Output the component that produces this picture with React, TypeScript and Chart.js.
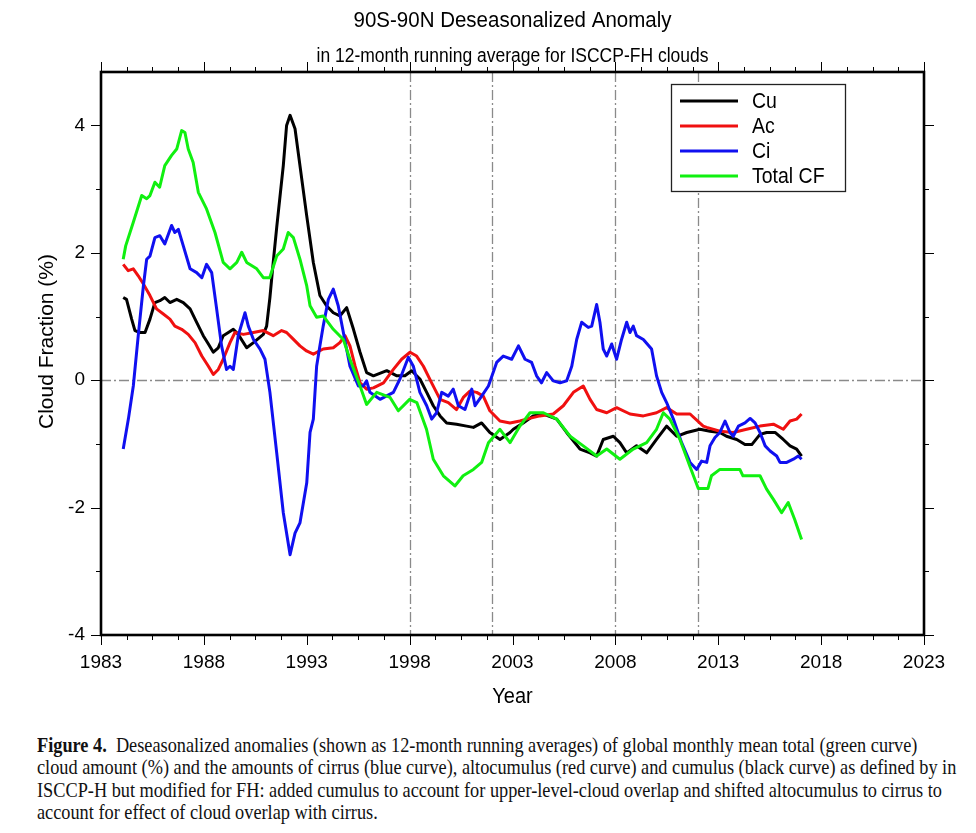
import React, { useEffect, useRef } from 'react';
import { Chart, registerables } from 'chart.js';

Chart.register(...registerables);

// ---------- data ----------
const cuYears = [1984.08, 1984.24, 1984.49, 1984.65, 1984.9, 1985.14, 1985.38, 1985.62, 1985.86, 1986.1, 1986.35, 1986.68, 1987.0, 1987.33, 1987.65, 1987.97, 1988.22, 1988.46, 1988.7, 1988.94, 1989.19, 1989.43, 1989.67, 1990.08, 1990.41, 1990.89, 1991.05, 1991.21, 1991.37, 1991.54, 1991.86, 1992.02, 1992.19, 1992.43, 1992.67, 1992.99, 1993.32, 1993.64, 1993.96, 1994.29, 1994.61, 1994.94, 1995.27, 1995.59, 1995.91, 1996.24, 1996.89, 1997.38, 1997.77, 1998.1, 1998.5, 1998.83, 1999.15, 1999.48, 1999.8, 2000.28, 2000.77, 2001.1, 2001.5, 2001.9, 2002.39, 2002.88, 2003.04, 2003.52, 2004.0, 2004.5, 2005.15, 2005.63, 2006.28, 2006.77, 2007.09, 2007.41, 2007.9, 2008.22, 2008.55, 2009.03, 2009.52, 2010.0, 2010.49, 2010.98, 2011.47, 2012.11, 2012.6, 2013.08, 2013.4, 2013.9, 2014.3, 2014.63, 2015.03, 2015.35, 2015.76, 2016.16, 2016.49, 2016.81, 2017.05];
const cuValues = [1.30, 1.27, 0.96, 0.78, 0.75, 0.75, 0.96, 1.22, 1.25, 1.30, 1.22, 1.27, 1.22, 1.12, 0.91, 0.70, 0.57, 0.44, 0.51, 0.70, 0.75, 0.80, 0.72, 0.51, 0.59, 0.72, 0.85, 1.30, 1.85, 2.40, 3.37, 4.00, 4.16, 3.95, 3.37, 2.60, 1.85, 1.33, 1.17, 1.06, 1.01, 1.14, 0.80, 0.44, 0.12, 0.07, 0.15, 0.07, 0.07, 0.15, 0.02, -0.19, -0.40, -0.56, -0.67, -0.69, -0.72, -0.74, -0.67, -0.82, -0.93, -0.82, -0.77, -0.67, -0.56, -0.53, -0.61, -0.82, -1.08, -1.14, -1.19, -0.93, -0.88, -0.98, -1.14, -1.03, -1.14, -0.93, -0.72, -0.88, -0.82, -0.77, -0.80, -0.82, -0.88, -0.93, -1.01, -1.01, -0.85, -0.82, -0.82, -0.93, -1.03, -1.08, -1.19];

const acYears = [1984.08, 1984.32, 1984.57, 1984.81, 1985.06, 1985.38, 1985.7, 1986.03, 1986.35, 1986.59, 1986.92, 1987.24, 1987.57, 1987.9, 1988.22, 1988.46, 1988.7, 1988.94, 1989.27, 1989.51, 1989.92, 1990.41, 1990.89, 1991.37, 1991.78, 1992.02, 1992.27, 1992.67, 1992.99, 1993.32, 1993.8, 1994.29, 1994.61, 1994.86, 1995.1, 1995.35, 1995.59, 1995.91, 1996.24, 1996.73, 1997.21, 1997.61, 1998.02, 1998.34, 1998.67, 1999.07, 1999.48, 1999.88, 2000.28, 2000.61, 2000.93, 2001.26, 2001.58, 2001.9, 2002.39, 2002.88, 2003.36, 2003.68, 2004.33, 2004.98, 2005.47, 2005.96, 2006.44, 2006.77, 2007.09, 2007.58, 2008.06, 2008.71, 2009.36, 2010.0, 2010.49, 2010.98, 2011.63, 2012.27, 2012.44, 2013.08, 2013.73, 2014.38, 2015.03, 2015.68, 2016.16, 2016.49, 2016.81, 2017.05];
const acValues = [1.82, 1.72, 1.75, 1.64, 1.51, 1.33, 1.12, 1.04, 0.96, 0.85, 0.80, 0.72, 0.59, 0.38, 0.22, 0.09, 0.17, 0.33, 0.59, 0.75, 0.72, 0.75, 0.78, 0.70, 0.78, 0.75, 0.67, 0.54, 0.46, 0.41, 0.49, 0.51, 0.59, 0.70, 0.54, 0.22, -0.04, -0.14, -0.12, -0.04, 0.17, 0.33, 0.44, 0.38, 0.22, -0.04, -0.30, -0.35, -0.46, -0.27, -0.17, -0.19, -0.25, -0.48, -0.64, -0.67, -0.64, -0.61, -0.56, -0.53, -0.40, -0.19, -0.09, -0.30, -0.46, -0.51, -0.43, -0.53, -0.56, -0.51, -0.43, -0.53, -0.53, -0.72, -0.74, -0.80, -0.82, -0.77, -0.72, -0.69, -0.77, -0.64, -0.61, -0.53];

const ciYears = [1984.08, 1984.33, 1984.57, 1984.81, 1985.06, 1985.22, 1985.38, 1985.62, 1985.86, 1986.1, 1986.43, 1986.59, 1986.76, 1987.0, 1987.33, 1987.65, 1987.9, 1988.13, 1988.38, 1988.62, 1988.86, 1989.1, 1989.27, 1989.43, 1989.67, 1990.0, 1990.16, 1990.41, 1990.73, 1990.97, 1991.21, 1991.54, 1991.86, 1992.19, 1992.43, 1992.67, 1993.0, 1993.16, 1993.32, 1993.48, 1993.64, 1993.8, 1994.05, 1994.29, 1994.53, 1994.78, 1995.1, 1995.51, 1995.75, 1995.91, 1996.07, 1996.56, 1997.21, 1997.53, 1997.94, 1998.18, 1998.5, 1998.83, 1999.07, 1999.31, 1999.56, 1999.88, 2000.12, 2000.37, 2000.69, 2001.02, 2001.18, 2001.5, 2001.83, 2002.23, 2002.55, 2002.96, 2003.29, 2003.61, 2003.93, 2004.17, 2004.41, 2004.66, 2004.98, 2005.31, 2005.63, 2005.88, 2006.12, 2006.36, 2006.68, 2006.85, 2007.09, 2007.25, 2007.41, 2007.58, 2007.82, 2008.06, 2008.3, 2008.55, 2008.71, 2008.87, 2009.03, 2009.36, 2009.76, 2010.0, 2010.25, 2010.49, 2010.82, 2011.22, 2011.63, 2011.95, 2012.19, 2012.44, 2012.6, 2012.84, 2013.08, 2013.33, 2013.57, 2013.73, 2013.98, 2014.3, 2014.55, 2014.79, 2015.03, 2015.28, 2015.52, 2015.84, 2016.0, 2016.33, 2016.65, 2016.89, 2017.05];
const ciValues = [-1.08, -0.61, -0.09, 0.70, 1.48, 1.90, 1.95, 2.24, 2.27, 2.14, 2.43, 2.32, 2.37, 2.11, 1.75, 1.69, 1.61, 1.82, 1.69, 1.12, 0.54, 0.17, 0.22, 0.17, 0.70, 1.06, 0.85, 0.64, 0.49, 0.33, -0.19, -1.14, -2.08, -2.74, -2.40, -2.24, -1.61, -0.82, -0.61, 0.22, 0.54, 0.85, 1.27, 1.43, 1.17, 0.75, 0.22, -0.09, -0.09, -0.01, -0.19, -0.30, -0.19, 0.02, 0.36, 0.22, -0.19, -0.40, -0.61, -0.51, -0.19, -0.25, -0.14, -0.40, -0.46, -0.14, -0.40, -0.25, -0.09, 0.28, 0.38, 0.33, 0.54, 0.33, 0.28, 0.07, -0.04, 0.12, -0.01, -0.04, -0.01, 0.22, 0.64, 0.91, 0.83, 0.85, 1.19, 0.91, 0.49, 0.38, 0.57, 0.33, 0.64, 0.91, 0.75, 0.85, 0.70, 0.64, 0.49, 0.07, -0.19, -0.35, -0.61, -0.98, -1.29, -1.40, -1.27, -1.29, -1.03, -0.90, -0.82, -0.64, -0.82, -0.88, -0.72, -0.67, -0.60, -0.67, -0.82, -1.03, -1.11, -1.19, -1.29, -1.29, -1.24, -1.19, -1.24];

const cfYears = [1984.08, 1984.2, 1984.57, 1984.98, 1985.22, 1985.38, 1985.62, 1985.85, 1986.1, 1986.43, 1986.68, 1986.92, 1987.08, 1987.24, 1987.48, 1987.73, 1988.13, 1988.54, 1988.94, 1989.27, 1989.6, 1989.84, 1990.08, 1990.57, 1990.89, 1991.2, 1991.54, 1991.86, 1992.1, 1992.35, 1992.67, 1993.0, 1993.16, 1993.48, 1993.8, 1994.29, 1994.78, 1995.1, 1995.59, 1995.91, 1996.4, 1997.05, 1997.45, 1998.0, 1998.35, 1998.82, 1999.15, 1999.64, 2000.2, 2000.6, 2001.1, 2001.5, 2001.83, 2002.39, 2002.88, 2003.36, 2003.85, 2004.5, 2005.15, 2005.8, 2006.44, 2007.09, 2007.58, 2008.22, 2008.87, 2009.52, 2010.0, 2010.33, 2010.65, 2011.14, 2011.62, 2012.03, 2012.5, 2012.67, 2013.08, 2014.05, 2014.2, 2015.03, 2015.35, 2015.68, 2016.08, 2016.4, 2016.72, 2017.05];
const cfValues = [1.90, 2.11, 2.48, 2.90, 2.85, 2.90, 3.11, 3.03, 3.37, 3.53, 3.63, 3.92, 3.89, 3.63, 3.42, 2.95, 2.69, 2.32, 1.85, 1.75, 1.85, 2.01, 1.85, 1.75, 1.61, 1.61, 1.95, 2.06, 2.32, 2.24, 1.90, 1.48, 1.17, 0.99, 1.01, 0.80, 0.64, 0.33, -0.09, -0.38, -0.19, -0.27, -0.48, -0.30, -0.35, -0.77, -1.24, -1.50, -1.66, -1.50, -1.40, -1.29, -0.98, -0.77, -0.98, -0.72, -0.51, -0.51, -0.61, -0.88, -1.03, -1.19, -1.08, -1.24, -1.08, -0.98, -0.77, -0.51, -0.61, -0.93, -1.35, -1.70, -1.70, -1.50, -1.40, -1.40, -1.50, -1.50, -1.71, -1.87, -2.08, -1.92, -2.19, -2.50];

const seriesNames = ['Cu', 'Ac', 'Ci', 'Total CF'];
const seriesColors = ['#000000', '#f01010', '#1010f0', '#10f010'];
const xTicks = [1983, 1988, 1993, 1998, 2003, 2008, 2013, 2018, 2023];
const yTicks = [-4, -2, 0, 2, 4];
const breakYears = [1998, 2002, 2008, 2012];
const titleText = '90S-90N Deseasonalized Anomaly';
const subtitleText = 'in 12-month running average for ISCCP-FH clouds';
const xTitle = 'Year';
const yTitle = 'Cloud Fraction (%)';

const FONT = '"Liberation Sans", Arial, Helvetica, sans-serif';
const STRETCH = 1.12;

const toPoints = (xs: number[], ys: number[]) => xs.map((x, i) => ({ x, y: ys[i] }));

function stretchText(ctx: any, text: string, x: number, y: number) {
  ctx.save();
  ctx.translate(x, y);
  ctx.scale(1, STRETCH);
  ctx.fillText(text, 0, 0);
  ctx.restore();
}

const decorPlugin = {
  id: 'decor',
  beforeDatasetsDraw(chart: any) {
    const { ctx, chartArea: a, scales } = chart;
    const x = scales.x, y = scales.y;
    ctx.save();
    ctx.strokeStyle = '#8a8a8a';
    ctx.lineWidth = 1.3;
    ctx.setLineDash([10, 3, 2, 3]);
    breakYears.forEach((yr) => {
      const px = Math.round(x.getPixelForValue(yr)) + 0.5;
      ctx.beginPath(); ctx.moveTo(px, a.top); ctx.lineTo(px, a.bottom); ctx.stroke();
    });
    const py = Math.round(y.getPixelForValue(0)) + 0.5;
    ctx.beginPath(); ctx.moveTo(a.left, py); ctx.lineTo(a.right, py); ctx.stroke();
    ctx.restore();
  },
  afterDraw(chart: any) {
    const { ctx, chartArea: a, scales } = chart;
    const x = scales.x, y = scales.y;
    ctx.save();
    ctx.strokeStyle = '#000';
    ctx.lineWidth = 1;
    const x0 = xTicks[0], x1 = xTicks[xTicks.length - 1];
    const xStep = (xTicks[1] - xTicks[0]) / 4;
    for (let k = 0; x0 + k * xStep <= x1 + 1e-6; k++) {
      const v = x0 + k * xStep;
      const len = k % 4 === 0 ? 10 : 5;
      const px = Math.round(x.getPixelForValue(v)) + 0.5;
      ctx.beginPath();
      ctx.moveTo(px, a.bottom); ctx.lineTo(px, a.bottom + len);
      ctx.moveTo(px, a.top); ctx.lineTo(px, a.top - len);
      ctx.stroke();
    }
    const y0 = yTicks[0], y1 = yTicks[yTicks.length - 1];
    const yStep = (yTicks[1] - yTicks[0]) / 2;
    for (let k = 0; y0 + k * yStep <= y1 + 1e-6; k++) {
      const v = y0 + k * yStep;
      const len = k % 2 === 0 ? 10 : 5;
      const py = Math.round(y.getPixelForValue(v)) + 0.5;
      ctx.beginPath();
      ctx.moveTo(a.left, py); ctx.lineTo(a.left - len, py);
      ctx.moveTo(a.right, py); ctx.lineTo(a.right + len, py);
      ctx.stroke();
    }
    ctx.lineWidth = 2.6;
    ctx.strokeRect(a.left, a.top, a.right - a.left, a.bottom - a.top);

    // legend
    const lx = a.left + 570, ly = a.top + 12, lw = 174, lh = 107;
    ctx.fillStyle = '#fff';
    ctx.fillRect(lx, ly, lw, lh);
    ctx.lineWidth = 1.3;
    ctx.strokeStyle = '#222';
    ctx.strokeRect(lx + 0.5, ly + 0.5, lw, lh);
    ctx.font = `19.5px ${FONT}`;
    ctx.textBaseline = 'middle';
    ctx.textAlign = 'left';
    seriesNames.forEach((name, i) => {
      const ry = ly + 17 + i * 25;
      ctx.strokeStyle = seriesColors[i];
      ctx.lineWidth = 3;
      ctx.beginPath(); ctx.moveTo(lx + 9, ry); ctx.lineTo(lx + 67, ry); ctx.stroke();
      ctx.fillStyle = '#000';
      stretchText(ctx, name, lx + 81, ry + 1);
    });

    // titles
    const cx = (a.left + a.right) / 2;
    ctx.fillStyle = '#000';
    ctx.textAlign = 'center';
    ctx.font = `20.5px ${FONT}`;
    stretchText(ctx, titleText, cx, 13);
    ctx.font = `17.5px ${FONT}`;
    stretchText(ctx, subtitleText, cx, 49);
    ctx.font = `20px ${FONT}`;
    stretchText(ctx, xTitle, cx, a.bottom + 62);
    ctx.save();
    ctx.translate(39, (a.top + a.bottom) / 2 - 12);
    ctx.rotate(-Math.PI / 2);
    ctx.font = `21px ${FONT}`;
    ctx.fillText(yTitle, 0, 0);
    ctx.restore();
    ctx.restore();
  },
};

export default function App() {
  const canvasRef = useRef<HTMLCanvasElement | null>(null);

  useEffect(() => {
    if (!canvasRef.current) return;
    const datasets = [
      { label: seriesNames[0], data: toPoints(cuYears, cuValues) },
      { label: seriesNames[1], data: toPoints(acYears, acValues) },
      { label: seriesNames[2], data: toPoints(ciYears, ciValues) },
      { label: seriesNames[3], data: toPoints(cfYears, cfValues) },
    ].map((d, i) => ({
      ...d,
      borderColor: seriesColors[i],
      backgroundColor: seriesColors[i],
      borderWidth: 3,
      pointRadius: 0,
      tension: 0,
      fill: false,
      borderJoinStyle: 'round' as const,
    }));
    const ordered = [datasets[3], datasets[2], datasets[1], datasets[0]];

    const chart = new Chart(canvasRef.current, {
      type: 'line',
      data: { datasets: ordered },
      plugins: [decorPlugin],
      options: {
        animation: false,
        responsive: false,
        layout: { padding: { top: 64, right: 44, left: 0, bottom: 0 } },
        plugins: { legend: { display: false }, tooltip: { enabled: false }, title: { display: false } },
        scales: {
          x: {
            type: 'linear',
            min: xTicks[0],
            max: xTicks[xTicks.length - 1],
            afterBuildTicks: (s: any) => { s.ticks = xTicks.map((v) => ({ value: v })); },
            afterFit: (s: any) => { s.height = 88; },
            grid: { display: false, drawTicks: false },
            border: { display: false },
            ticks: {
              autoSkip: false,
              maxRotation: 0,
              padding: 16,
              color: '#000',
              font: { family: FONT, size: 19 },
              callback: (v: any) => String(v),
            },
          },
          y: {
            type: 'linear',
            min: yTicks[0],
            max: 4.84,
            afterBuildTicks: (s: any) => { s.ticks = yTicks.map((v) => ({ value: v })); },
            afterFit: (s: any) => { s.width = 93; },
            grid: { display: false, drawTicks: false },
            border: { display: false },
            ticks: {
              padding: 16,
              color: '#000',
              font: { family: FONT, size: 19 },
              callback: (v: any) => String(v),
            },
          },
        },
      },
    });
    return () => chart.destroy();
  }, []);

  return (
    <div style={{ position: 'relative', width: 960, height: 817, background: '#fff' }}>
      <canvas ref={canvasRef} width={960} height={715} style={{ position: 'absolute', left: 0, top: 0 }} />
      <div
        style={{
          position: 'absolute',
          left: 29,
          top: 726,
          fontFamily: '"Liberation Serif", "Times New Roman", serif',
          fontSize: 18.3,
          lineHeight: '20.3px',
          whiteSpace: 'nowrap',
          color: '#111',
          transform: 'scale(1, 1.1)',
          transformOrigin: 'top left',
        }}
      >
        <b>Figure 4.</b>&nbsp; Deseasonalized anomalies (shown as 12-month running averages) of global monthly mean total (green curve)<br />
        cloud amount (%) and the amounts of cirrus (blue curve), altocumulus (red curve) and cumulus (black curve) as defined by in<br />
        ISCCP-H but modified for FH: added cumulus to account for upper-level-cloud overlap and shifted altocumulus to cirrus to<br />
        account for effect of cloud overlap with cirrus.
      </div>
    </div>
  );
}
